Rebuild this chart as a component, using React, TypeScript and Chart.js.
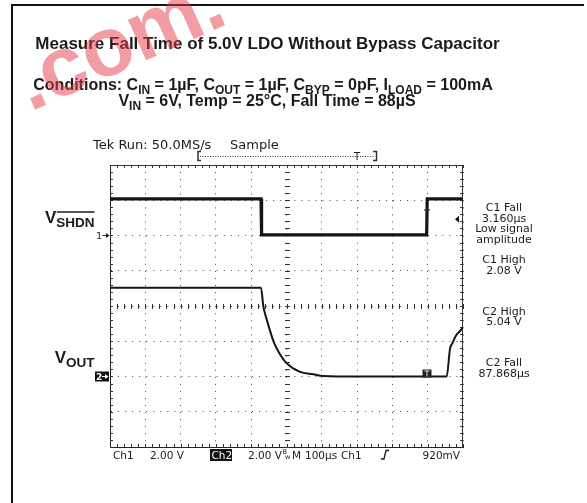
import React, { useEffect, useRef } from "react";
import { Chart, registerables } from "chart.js";

Chart.register(...registerables);

// ---------------- data ----------------
// time axis: 100 µs / div, 10 divisions
const timeMin = 0;
const timeMax = 1000;
const timeStep = 100;
// CH1 (V_SHDN): 2 V/div, ground marker at 6th division
const ch1TimeUs = [0, 427.8, 429.4, 897.0, 898.6, 1000];
const ch1Volts = [2.08, 2.08, 0.04, 0.04, 2.08, 2.08];
// CH2 (V_OUT): 2 V/div, ground marker at 2nd division
const ch2TimeUs = [0, 427.8, 434.3, 443.9, 464.6, 481.6, 498.6, 538.2, 576, 604, 700, 800, 900, 953.8, 963.2, 970.8, 980.2, 991.5, 1000];
const ch2Volts = [5.04, 5.04, 3.99, 3.24, 1.92, 1.26, 0.79, 0.26, 0.13, 0.03, 0.0, 0.0, 0.0, 0.0, 1.57, 1.92, 2.33, 2.58, 2.78];
const ch1Range = [-12, 4];
const ch2Range = [-4, 12];
const triggerLevelV = 0.92;
const triggerTimeUs = 898;

// ---------------- texts ----------------
type Seg = { text: string; sub?: boolean };
const titleText = "Measure Fall Time of 5.0V LDO Without Bypass Capacitor";
const conditionsLine1: Seg[] = [
  { text: "Conditions: C" }, { text: "IN", sub: true },
  { text: " = 1µF, C" }, { text: "OUT", sub: true },
  { text: " = 1µF, C" }, { text: "BYP", sub: true },
  { text: " = 0pF, I" }, { text: "LOAD", sub: true },
  { text: " = 100mA" },
];
const conditionsLine2: Seg[] = [
  { text: "V" }, { text: "IN", sub: true },
  { text: " = 6V, Temp = 25°C, Fall Time = 88µS" },
];
const headerLeft = "Tek Run: 50.0MS/s";
const headerRight = "Sample";
const readoutLabels = ["C1 Fall", "3.160µs", "Low signal", "amplitude", "C1 High", "2.08 V", "C2 High", "5.04 V", "C2 Fall", "87.868µs"];
const bottomLabels = ["Ch1", "2.00 V", "Ch2", "2.00 V", "M", "100µs", "Ch1", "920mV"];
const label1Main = "V";
const label1Sub = "SHDN";
const label2Main = "V";
const label2Sub = "OUT";
const watermarkText = ".com.";

const SANS = '"Liberation Sans", Arial, Helvetica, sans-serif';
const TEK = '"DejaVu Sans", Verdana, sans-serif';
const INK = "#1c1a1b";

function drawRich(ctx: CanvasRenderingContext2D, segs: Seg[], cx: number, baseline: number, mainSize: number, subSize: number, drop: number) {
  const mf = `bold ${mainSize}px ${SANS}`;
  const sf = `bold ${subSize}px ${SANS}`;
  let total = 0;
  const widths = segs.map((s) => {
    ctx.font = s.sub ? sf : mf;
    const w = ctx.measureText(s.text).width;
    total += w;
    return w;
  });
  let x = cx - total / 2;
  ctx.textAlign = "left";
  segs.forEach((s, i) => {
    ctx.font = s.sub ? sf : mf;
    ctx.fillText(s.text, x, baseline + (s.sub ? drop : 0));
    x += widths[i];
  });
}

function line(ctx: CanvasRenderingContext2D, x1: number, y1: number, x2: number, y2: number) {
  ctx.beginPath();
  ctx.moveTo(x1, y1);
  ctx.lineTo(x2, y2);
  ctx.stroke();
}

const scopePlugin = {
  id: "scopeDecor",
  beforeDraw(chart: any) {
    const ctx: CanvasRenderingContext2D = chart.ctx;
    ctx.save();
    ctx.fillStyle = "#fff";
    ctx.fillRect(0, 0, chart.width, chart.height);
    // page frame
    ctx.strokeStyle = "#111";
    ctx.lineWidth = 2;
    ctx.beginPath();
    ctx.moveTo(12, 503);
    ctx.lineTo(12, 5);
    ctx.lineTo(584, 5);
    ctx.stroke();

    ctx.fillStyle = INK;
    ctx.textBaseline = "alphabetic";
    ctx.font = `bold 17px ${SANS}`;
    ctx.textAlign = "center";
    ctx.fillText(titleText, 267.5, 49);
    drawRich(ctx, conditionsLine1, 263, 90, 16, 12, 3.5);
    drawRich(ctx, conditionsLine2, 267, 106, 16, 12, 3.5);

    // scope header
    ctx.textAlign = "left";
    ctx.font = `13px ${TEK}`;
    ctx.fillText(headerLeft, 93, 149);
    ctx.fillText(headerRight, 230, 149);
    // record bracket
    ctx.strokeStyle = "#333";
    ctx.lineWidth = 1.5;
    line(ctx, 198, 151, 198, 161);
    line(ctx, 197.5, 151.5, 201, 151.5);
    line(ctx, 197.5, 160.5, 201, 160.5);
    line(ctx, 376.5, 151, 376.5, 161);
    line(ctx, 373, 151.5, 377, 151.5);
    line(ctx, 373, 160.5, 377, 160.5);
    ctx.lineWidth = 1;
    ctx.setLineDash([1, 1.5]);
    line(ctx, 200, 156.5, 375, 156.5);
    ctx.setLineDash([]);
    ctx.font = `10px ${TEK}`;
    ctx.textAlign = "center";
    ctx.fillText("T", 357, 160);

    // right readouts
    ctx.font = `11px ${TEK}`;
    const ys = [211, 221.5, 232, 242.5, 263, 273.5, 314.5, 325, 366, 376.5];
    readoutLabels.forEach((t, i) => ctx.fillText(t, 504, ys[i]));

    // bottom status row
    ctx.textAlign = "left";
    ctx.font = `10.5px ${TEK}`;
    const by = 459;
    ctx.fillText(bottomLabels[0], 113, by);
    ctx.fillText(bottomLabels[1], 150, by);
    ctx.fillStyle = "#111";
    ctx.fillRect(210, 449, 22, 12);
    ctx.fillStyle = "#fff";
    ctx.fillText(bottomLabels[2], 211.5, by);
    ctx.fillStyle = INK;
    ctx.fillText(bottomLabels[3], 248, by);
    ctx.font = `6.5px ${TEK}`;
    ctx.fillText("B", 282.5, 454);
    ctx.fillText("w", 285, 459);
    ctx.font = `10.5px ${TEK}`;
    ctx.fillText(bottomLabels[4], 292, by);
    ctx.fillText(bottomLabels[5], 305, by);
    ctx.fillText(bottomLabels[6], 341, by);
    ctx.strokeStyle = INK;
    ctx.lineWidth = 1.3;
    ctx.beginPath();
    ctx.moveTo(381, 459);
    ctx.lineTo(384, 459);
    ctx.lineTo(386, 450.5);
    ctx.lineTo(389, 450.5);
    ctx.stroke();
    ctx.textAlign = "right";
    ctx.fillText(bottomLabels[7], 460, by);

    // channel labels
    ctx.textAlign = "left";
    const drawLabel = (main: string, sub: string, rightX: number, base: number, over: boolean) => {
      ctx.font = `bold 17px ${SANS}`;
      const w1 = ctx.measureText(main).width;
      ctx.font = `bold 13.5px ${SANS}`;
      const w2 = ctx.measureText(sub).width;
      const x0 = rightX - w1 - w2;
      ctx.font = `bold 17px ${SANS}`;
      ctx.fillText(main, x0, base);
      ctx.font = `bold 13.5px ${SANS}`;
      ctx.fillText(sub, x0 + w1, base + 4);
      if (over) {
        ctx.strokeStyle = INK;
        ctx.lineWidth = 1.5;
        line(ctx, x0 + w1 + 0.5, base - 10.5, x0 + w1 + w2, base - 10.5);
      }
    };
    drawLabel(label1Main, label1Sub, 94.5, 222.5, true);
    drawLabel(label2Main, label2Sub, 94.5, 362.5, false);
    ctx.restore();
  },
  beforeDatasetsDraw(chart: any) {
    const ctx: CanvasRenderingContext2D = chart.ctx;
    const { left, right, top, bottom } = chart.chartArea;
    const xs = chart.scales.x;
    const ys = chart.scales.y;
    ctx.save();
    ctx.strokeStyle = "#333";
    ctx.lineWidth = 1;
    line(ctx, left, top + 0.5, right, top + 0.5);
    line(ctx, right - 0.5, top, right - 0.5, bottom);
    const cx = Math.round(xs.getPixelForValue((timeMin + timeMax) / 2)) + 0.5;
    const cy = Math.round(ys.getPixelForValue((ch1Range[0] + ch1Range[1]) / 2)) + 0.5;
    for (let t = timeMin; t <= timeMax + 0.001; t += timeStep / 5) {
      const px = Math.round(xs.getPixelForValue(t)) + 0.5;
      line(ctx, px, top, px, top + 3);
      line(ctx, px, bottom, px, bottom - 3);
      line(ctx, px, cy - 2.5, px, cy + 2.5);
    }
    for (let v = ch1Range[0]; v <= ch1Range[1] + 0.001; v += 0.4) {
      const py = Math.round(ys.getPixelForValue(v)) + 0.5;
      line(ctx, left, py, left + 3, py);
      line(ctx, right, py, right - 3, py);
      line(ctx, cx - 2.5, py, cx + 2.5, py);
    }
    ctx.restore();
  },
  afterDatasetsDraw(chart: any) {
    const ctx: CanvasRenderingContext2D = chart.ctx;
    const { right } = chart.chartArea;
    const xs = chart.scales.x;
    const y1 = chart.scales.y;
    const y2 = chart.scales.y2;
    ctx.save();
    // ch1 ground marker
    const g1 = y1.getPixelForValue(0);
    ctx.fillStyle = INK;
    ctx.font = `9px ${TEK}`;
    ctx.textAlign = "right";
    ctx.fillText("1", 102, g1 + 3);
    ctx.strokeStyle = INK;
    ctx.lineWidth = 1;
    line(ctx, 102.5, g1, 107, g1);
    ctx.beginPath();
    ctx.moveTo(109.5, g1);
    ctx.lineTo(106, g1 - 2.5);
    ctx.lineTo(106, g1 + 2.5);
    ctx.closePath();
    ctx.fill();
    // ch2 ground marker
    const g2 = y2.getPixelForValue(0);
    ctx.fillStyle = "#111";
    ctx.fillRect(95, g2 - 5, 14, 10);
    ctx.fillStyle = "#fff";
    ctx.font = `bold 9px ${TEK}`;
    ctx.textAlign = "left";
    ctx.fillText("2", 96, g2 + 3.5);
    ctx.strokeStyle = "#fff";
    line(ctx, 102, g2, 106, g2);
    ctx.beginPath();
    ctx.moveTo(108.5, g2);
    ctx.lineTo(105, g2 - 2.5);
    ctx.lineTo(105, g2 + 2.5);
    ctx.closePath();
    ctx.fill();
    // trigger level arrow
    const tl = y1.getPixelForValue(triggerLevelV);
    ctx.fillStyle = "#111";
    ctx.beginPath();
    ctx.moveTo(right - 8, tl);
    ctx.lineTo(right - 4, tl - 3.5);
    ctx.lineTo(right - 4, tl + 3.5);
    ctx.closePath();
    ctx.fill();
    // trigger point marker on CH2
    const tx = xs.getPixelForValue(triggerTimeUs);
    ctx.fillStyle = "#222";
    ctx.fillRect(tx - 4.5, g2 - 7, 9, 8);
    ctx.fillStyle = "#ddd";
    ctx.fillRect(tx - 2.5, g2 - 6, 5, 1);
    ctx.fillRect(tx - 0.5, g2 - 6, 1, 6);
    // small cursor tick on CH1 edge
    const ty = y1.getPixelForValue(1.45);
    ctx.strokeStyle = "#333";
    ctx.lineWidth = 1.2;
    line(ctx, tx - 3, ty, tx + 3, ty);
    ctx.restore();
  },
  afterDraw(chart: any) {
    const ctx: CanvasRenderingContext2D = chart.ctx;
    ctx.save();
    ctx.translate(30, 112);
    ctx.rotate((-24 * Math.PI) / 180);
    ctx.fillStyle = "rgba(228, 60, 72, 0.5)";
    ctx.font = `bold 84px ${SANS}`;
    ctx.textAlign = "left";
    ctx.fillText(watermarkText, 0, 0);
    ctx.restore();
  },
};

export default function App() {
  const ref = useRef<HTMLCanvasElement | null>(null);
  useEffect(() => {
    if (!ref.current) return;
    const gridCommon = {
      color: "#4a4a4a",
      lineWidth: 1,
      drawTicks: false,
    };
    const chart = new Chart(ref.current, {
      type: "line",
      data: {
        datasets: [
          {
            label: "CH1",
            data: ch1TimeUs.map((t, i) => ({ x: t, y: ch1Volts[i] })),
            yAxisID: "y",
            borderColor: "#151515",
            borderWidth: 3.2,
            pointRadius: 0,
            tension: 0,
          },
          {
            label: "CH2",
            data: ch2TimeUs.map((t, i) => ({ x: t, y: ch2Volts[i] })),
            yAxisID: "y2",
            borderColor: "#151515",
            borderWidth: 2,
            pointRadius: 0,
            cubicInterpolationMode: "monotone",
          },
        ],
      },
      options: {
        animation: false,
        responsive: false,
        maintainAspectRatio: false,
        events: [],
        layout: { padding: { left: 110, right: 124, top: 165, bottom: 56 } },
        plugins: {
          legend: { display: false },
          tooltip: { enabled: false },
          title: { display: false },
        },
        scales: {
          x: {
            type: "linear",
            min: timeMin,
            max: timeMax,
            ticks: { display: false, stepSize: timeStep },
            grid: gridCommon,
            border: { display: true, color: "#222", width: 1, dash: [1, 6.06] },
          },
          y: {
            type: "linear",
            position: "left",
            min: ch1Range[0],
            max: ch1Range[1],
            ticks: { display: false, stepSize: 2 },
            grid: gridCommon,
            border: { display: true, color: "#222", width: 1, dash: [1, 6.05] },
          },
          y2: {
            type: "linear",
            display: false,
            min: ch2Range[0],
            max: ch2Range[1],
          },
        },
      },
      plugins: [scopePlugin],
    } as any);
    return () => chart.destroy();
  }, []);
  return (
    <div style={{ position: "absolute", left: 0, top: 0, width: 587, height: 503 }}>
      <canvas ref={ref} width={587} height={503} style={{ width: 587, height: 503, display: "block" }} />
    </div>
  );
}
